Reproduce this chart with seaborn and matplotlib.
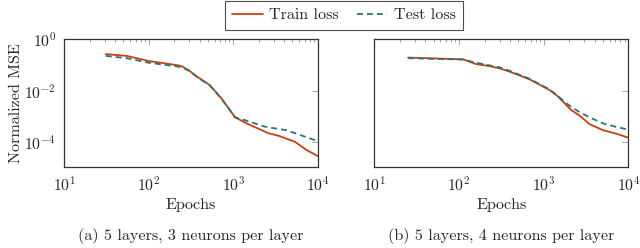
import numpy as np
import pandas as pd
import matplotlib
matplotlib.use("Agg")
import matplotlib.pyplot as plt
import matplotlib.ticker as mticker
import seaborn as sns

# ---- data ----
a_train_epochs = [31, 55, 100, 224, 250, 300, 372, 525, 724, 912, 1050, 1445, 2570, 3550, 5370, 7410, 10000]
a_train_loss = [0.26, 0.22, 0.14, 0.095, 0.085, 0.06, 0.035, 0.0166, 0.005, 0.00178, 0.00093,
                0.00054, 0.00023, 0.000174, 0.000105, 0.00005, 0.0000295]
a_test_epochs = [31, 55, 100, 224, 250, 300, 372, 525, 724, 912, 1050, 1380, 2400, 4270, 6760, 10000]
a_test_loss = [0.22, 0.18, 0.12, 0.085, 0.078, 0.058, 0.034, 0.016, 0.0049, 0.00175, 0.00093,
               0.00072, 0.0004, 0.000295, 0.000174, 0.000112]

b_train_epochs = [25, 112, 158, 229, 302, 398, 676, 1175, 1450, 1750, 2100, 2630, 3467, 5012, 7080, 9770]
b_train_loss = [0.19, 0.162, 0.107, 0.089, 0.072, 0.054, 0.0275, 0.0105, 0.0062, 0.0033, 0.0018, 0.0011,
                0.00051, 0.000295, 0.00022, 0.000155]
b_test_epochs = [25, 112, 158, 229, 302, 398, 676, 1175, 1450, 1750, 2100, 2630, 3467, 5012, 7080, 9770]
b_test_loss = [0.18, 0.16, 0.12, 0.095, 0.08, 0.058, 0.029, 0.011, 0.0065, 0.0037, 0.0024, 0.0015,
               0.00093, 0.00054, 0.0004, 0.000316]

captions = ["(a) 5 layers, 3 neurons per layer", "(b) 5 layers, 4 neurons per layer"]
series_names = ["Train loss", "Test loss"]
x_label = "Epochs"
y_label = "Normalized MSE"

# ---- style ----
sns.set_theme(style="white")
plt.rcParams["font.family"] = ["cmr10", "DejaVu Serif"]
plt.rcParams["mathtext.fontset"] = "cm"
plt.rcParams["axes.formatter.use_mathtext"] = True
plt.rcParams["font.size"] = 11.5

train_color = "#C8400E"
test_color = "#2B7475"
fs = 11.6

fig = plt.figure(figsize=(6.4, 2.48), dpi=100)
ax1 = fig.add_axes([0.1005, 0.328, 0.396, 0.515])
ax2 = fig.add_axes([0.585, 0.328, 0.397, 0.515])

panels = [
    (ax1, a_train_epochs, a_train_loss, a_test_epochs, a_test_loss),
    (ax2, b_train_epochs, b_train_loss, b_test_epochs, b_test_loss),
]

for i, (ax, tre, trl, tee, tel) in enumerate(panels):
    df_tr = pd.DataFrame({"epoch": tre, "loss": trl})
    df_te = pd.DataFrame({"epoch": tee, "loss": tel})
    sns.lineplot(data=df_tr, x="epoch", y="loss", ax=ax, color=train_color, lw=1.3,
                 label=series_names[0] if i == 0 else None)
    sns.lineplot(data=df_te, x="epoch", y="loss", ax=ax, color=test_color, lw=1.3,
                 linestyle=(0, (3.3, 2.2)), label=series_names[1] if i == 0 else None)
    ax.set_xscale("log")
    ax.set_yscale("log")
    ax.set_xlim(10, 10000)
    ax.set_ylim(1.15e-5, 1)
    ax.xaxis.set_major_locator(mticker.FixedLocator([10, 100, 1000, 10000]))
    ax.xaxis.set_minor_locator(mticker.LogLocator(base=10, subs=np.arange(2, 10)))
    ax.xaxis.set_minor_formatter(mticker.NullFormatter())
    ax.yaxis.set_major_locator(mticker.FixedLocator([1, 1e-2, 1e-4]))
    ax.yaxis.set_minor_locator(mticker.NullLocator())
    ax.yaxis.set_major_formatter(mticker.LogFormatterSciNotation())
    ax.tick_params(which="both", direction="in", top=True, right=True, color="#999999")
    ax.tick_params(which="major", length=4.5, width=0.6, labelsize=11.3, pad=6)
    ax.tick_params(which="minor", length=2.2, width=0.6)
    for s in ax.spines.values():
        s.set_color("#333333")
        s.set_linewidth(0.9)
    ax.set_xlabel(x_label, fontsize=fs, labelpad=3)
    ax.set_ylabel("")
    pos = ax.get_position()
    fig.text((pos.x0 + pos.x1) / 2, 1 - 236 / 248, captions[i], ha="center", va="center",
             fontsize=fs)
    if ax.get_legend() is not None:
        ax.get_legend().remove()

ax1.set_ylabel(y_label, fontsize=fs, labelpad=1)
ax2.tick_params(axis="y", labelleft=False)

handles, labels = ax1.get_legend_handles_labels()
leg = fig.legend(handles, labels, loc="upper center", bbox_to_anchor=(0.5375, 0.997), ncol=2,
                 frameon=True, fancybox=False, edgecolor="#222222", fontsize=fs,
                 handlelength=1.9, columnspacing=1.1, borderpad=0.45, handletextpad=0.4,
                 borderaxespad=0)
leg.get_frame().set_linewidth(0.8)

fig.savefig("out.png", dpi=100)
